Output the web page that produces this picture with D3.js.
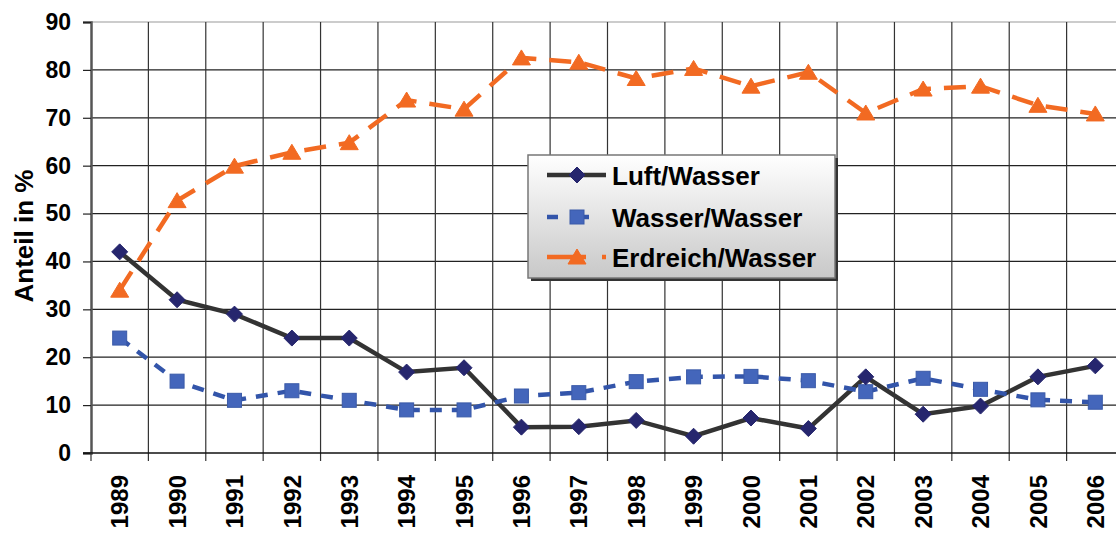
<!DOCTYPE html>
<html>
<head>
<meta charset="utf-8">
<script src="https://cdn.jsdelivr.net/npm/d3@7"></script>
<style>
  html, body { margin: 0; padding: 0; background: #fff; overflow: hidden; }
  text { font-family: 'Liberation Sans', Arial, sans-serif; font-weight: bold; fill: #000; }
</style>
</head>
<body>
<svg id="chart" width="1116" height="533"></svg>
<script>
let years = ['1989', '1990', '1991', '1992', '1993', '1994', '1995', '1996', '1997',
  '1998', '1999', '2000', '2001', '2002', '2003', '2004', '2005', '2006']
let luftWasser = [42, 32, 29, 24, 24, 16.9, 17.8, 5.4, 5.5, 6.8, 3.5, 7.3, 5.1, 15.9, 8.1, 9.8, 15.9, 18.2]
let wasserWasser = [24, 15, 11, 13, 11, 9, 9, 11.9, 12.6, 14.9, 15.9, 16, 15.1, 12.8, 15.6, 13.3, 11.1, 10.6]
let erdreichWasser = [34, 52.7, 59.9, 62.8, 64.8, 73.7, 71.8, 82.5, 81.6, 78.2, 80.3, 76.6, 79.5, 71, 76, 76.6, 72.6, 70.8]
let yTicks = [0, 10, 20, 30, 40, 50, 60, 70, 80, 90]
let seriesNames = ['Luft/Wasser', 'Wasser/Wasser', 'Erdreich/Wasser']

let series = [
  {name: seriesNames[0], values: luftWasser, line: '#333333', fill: '#26266e', stroke: '#26266e', dash: null, marker: 'diamond'},
  {name: seriesNames[1], values: wasserWasser, line: '#3355aa', fill: '#4466bb', stroke: '#3a5aa8', dash: '12,10', marker: 'square'},
  {name: seriesNames[2], values: erdreichWasser, line: '#f26a22', fill: '#f26a22', stroke: '#f26a22', dash: '22,13', marker: 'triangle'}
]

let svg = d3.select('#chart')
let plot = {left: 91, right: 1124, top: 22, bottom: 453}

let x = d3.scaleBand().domain(years).range([plot.left, plot.right])
let y = d3.scaleLinear().domain([0, 90]).range([plot.bottom, plot.top])
let cx = function (d, i) { return x(years[i]) + x.bandwidth() / 2 }

// grid lines
svg.append('g')
  .selectAll('line')
  .data(yTicks.slice(1))
  .join('line')
    .attr('x1', plot.left)
    .attr('x2', plot.right)
    .attr('y1', d => y(d))
    .attr('y2', d => y(d))
    .attr('stroke', d => d === 90 ? '#9a9a9a' : '#222')
    .attr('stroke-width', 1.2)

svg.append('g')
  .selectAll('line')
  .data(years.slice(1))
  .join('line')
    .attr('x1', d => x(d))
    .attr('x2', d => x(d))
    .attr('y1', plot.top)
    .attr('y2', plot.bottom + 8)
    .attr('stroke', '#333')
    .attr('stroke-width', 1.2)

// axes
let yAxis = svg.append('g')
  .attr('transform', 'translate(' + plot.left + ',0)')
  .call(d3.axisLeft(y).tickValues(yTicks).tickSize(8).tickPadding(12))
yAxis.select('.domain').attr('stroke', '#555').attr('stroke-width', 2.5)
yAxis.selectAll('.tick line').attr('stroke', '#222').attr('stroke-width', 1.2)
yAxis.selectAll('.tick text')
  .attr('font-size', 23)
  .attr('font-family', null)
  .attr('fill', '#000')

let xAxis = svg.append('g')
  .attr('transform', 'translate(0,' + plot.bottom + ')')
  .call(d3.axisBottom(x).tickSize(0).tickPadding(0))
xAxis.select('.domain').remove()
svg.append('line')
  .attr('x1', plot.left - 8).attr('x2', plot.right)
  .attr('y1', plot.bottom).attr('y2', plot.bottom)
  .attr('stroke', '#111').attr('stroke-width', 1.5)
svg.append('line')
  .attr('x1', plot.left).attr('x2', plot.left)
  .attr('y1', plot.bottom).attr('y2', plot.bottom + 8)
  .attr('stroke', '#333').attr('stroke-width', 1.2)
xAxis.selectAll('.tick text')
  .attr('font-size', 24)
  .attr('font-family', null)
  .attr('fill', '#000')
  .attr('text-anchor', 'end')
  .attr('transform', 'rotate(-90)')
  .attr('x', -22)
  .attr('y', 0)
  .attr('dy', '0.36em')

svg.append('text')
  .attr('transform', 'translate(33,236) rotate(-90)')
  .attr('text-anchor', 'middle')
  .attr('font-size', 26)
  .text('Anteil in %')

// markers
function drawMarker (g, type, size) {
  if (type === 'diamond') {
    g.append('path').attr('d', 'M0,' + (-size) + 'L' + size + ',0L0,' + size + 'L' + (-size) + ',0Z')
  } else if (type === 'square') {
    g.append('rect').attr('x', -size + 1).attr('y', -size + 1)
      .attr('width', 2 * size - 2).attr('height', 2 * size - 2)
  } else {
    g.append('path').attr('d', 'M0,' + (-size) + 'L' + (size + 1) + ',' + (size - 1) + 'L' + (-size - 1) + ',' + (size - 1) + 'Z')
  }
}

let line = d3.line()
  .x(cx)
  .y(d => y(d))

series.forEach(function (s) {
  svg.append('path')
    .datum(s.values)
    .attr('d', line)
    .attr('fill', 'none')
    .attr('stroke', s.line)
    .attr('stroke-width', 4.5)
    .attr('stroke-dasharray', s.dash)
})

series.slice(1).concat(series.slice(0, 1)).forEach(function (s) {
  svg.append('g')
    .selectAll('g')
    .data(s.values)
    .join('g')
      .attr('transform', (d, i) => 'translate(' + cx(d, i) + ',' + y(d) + ')')
      .each(function () { drawMarker(d3.select(this), s.marker, 8) })
      .selectAll('path, rect')
        .attr('fill', s.fill)
        .attr('stroke', s.stroke)
        .attr('stroke-width', 1)
})

// legend
let defs = svg.append('defs')
let grad = defs.append('linearGradient')
  .attr('id', 'legendFill')
  .attr('x1', 0).attr('y1', 0).attr('x2', 0).attr('y2', 1)
grad.append('stop').attr('offset', '0%').attr('stop-color', '#ffffff')
grad.append('stop').attr('offset', '100%').attr('stop-color', '#c8c8c8')

let legend = svg.append('g').attr('transform', 'translate(528,155)')
legend.append('rect')
  .attr('x', 3).attr('y', 3)
  .attr('width', 307).attr('height', 123)
  .attr('fill', '#333')
legend.append('rect')
  .attr('width', 307).attr('height', 123)
  .attr('fill', 'url(#legendFill)')
  .attr('stroke', '#777')
  .attr('stroke-width', 1.5)

let rowY = [20, 62, 102]
series.forEach(function (s, i) {
  let row = legend.append('g').attr('transform', 'translate(0,' + rowY[i] + ')')
  if (s.marker === 'diamond') {
    row.append('line').attr('x1', 19).attr('x2', 78)
      .attr('stroke', s.line).attr('stroke-width', 4.5)
  } else if (s.marker === 'square') {
    row.append('line').attr('x1', 19).attr('x2', 30)
      .attr('stroke', s.line).attr('stroke-width', 4.5)
    row.append('line').attr('x1', 56).attr('x2', 61)
      .attr('stroke', s.line).attr('stroke-width', 4.5)
  } else {
    row.append('line').attr('x1', 19).attr('x2', 58)
      .attr('stroke', s.line).attr('stroke-width', 4.5)
    row.append('line').attr('x1', 74).attr('x2', 78)
      .attr('stroke', s.line).attr('stroke-width', 4.5)
  }
  let m = row.append('g').attr('transform', 'translate(49,0)')
  drawMarker(m, s.marker, 8)
  m.selectAll('path, rect').attr('fill', s.fill).attr('stroke', s.stroke)
  row.append('text')
    .attr('x', 84)
    .attr('y', 10)
    .attr('font-size', 26)
    .text(s.name)
})
</script>
</body>
</html>
